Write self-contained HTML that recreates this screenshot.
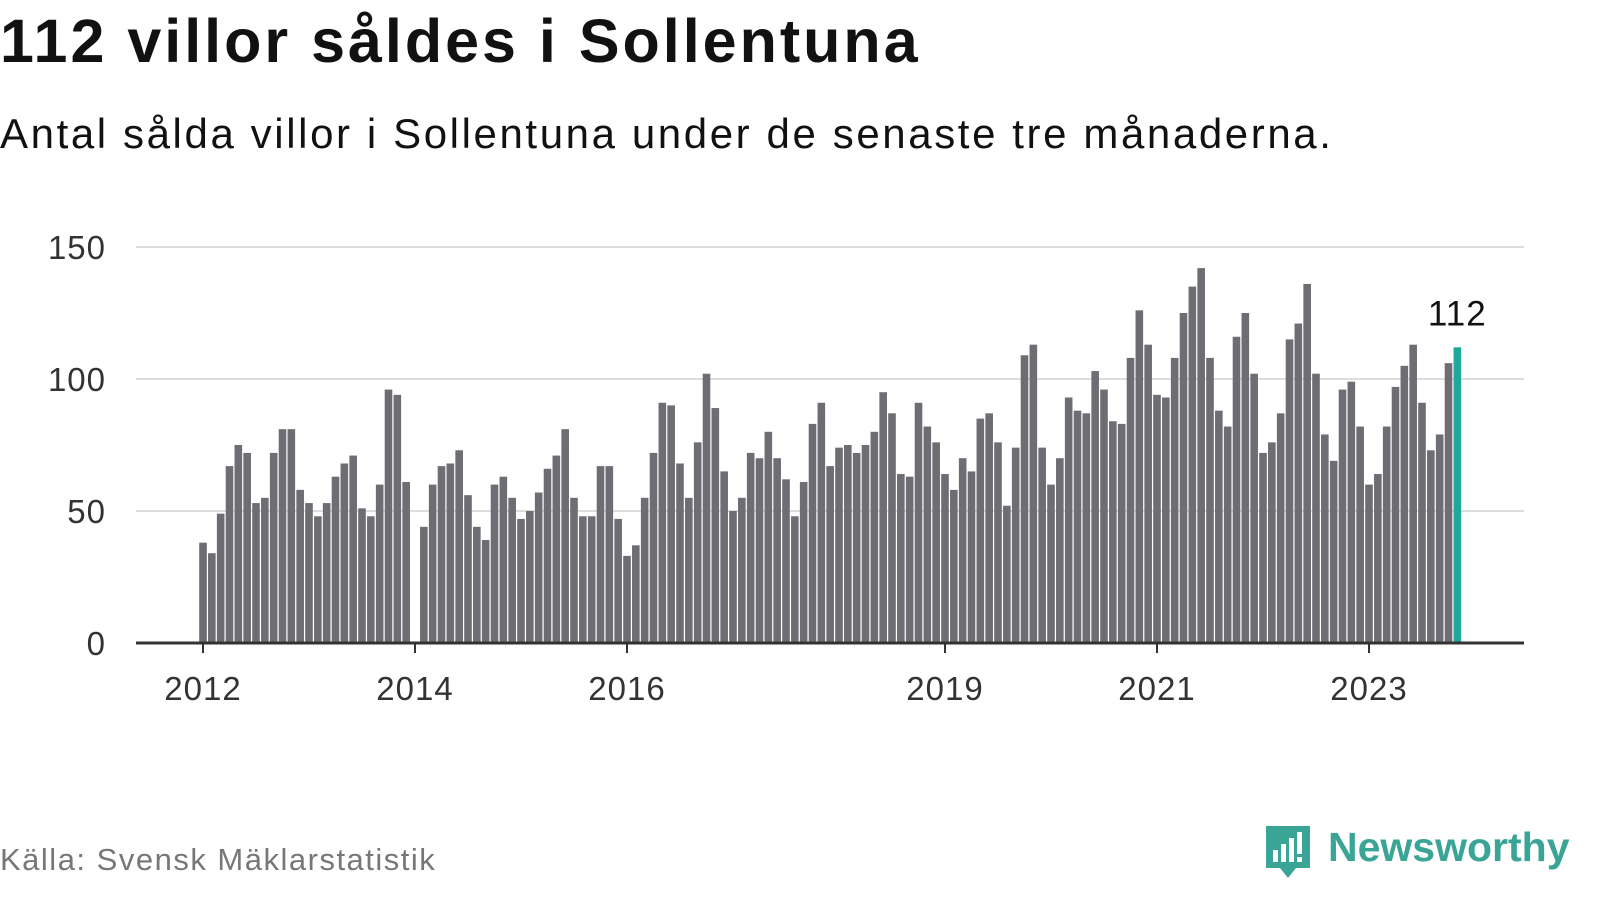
<!DOCTYPE html>
<html><head><meta charset="utf-8"><style>
body{margin:0;width:1600px;height:900px;background:#fff;font-family:"Liberation Sans",sans-serif;overflow:hidden;position:relative}
.t{position:absolute;white-space:nowrap}
</style></head><body>
<div class="t" style="left:0;top:6px;font-size:61px;font-weight:bold;color:#111;letter-spacing:3px">112 villor såldes i Sollentuna</div>
<div class="t" style="left:0;top:110px;font-size:42px;color:#111;letter-spacing:2.6px">Antal sålda villor i Sollentuna under de senaste tre månaderna.</div>
<svg id="c" width="1600" height="900" style="position:absolute;left:0;top:0"></svg>
<div class="t" style="left:0;top:842px;font-size:31px;color:#777;letter-spacing:1.5px">Källa: Svensk Mäklarstatistik</div>
<div style="position:absolute;left:1264px;top:824px;width:300px;height:60px">
<svg width="50" height="58" style="position:absolute;left:0;top:0"><path d="M2 2h44v42h-14l-8 10l-8-10h-14z" fill="#3aa597"/><rect x="9" y="26" width="5" height="12" fill="#fff"/><rect x="17" y="20" width="5" height="18" fill="#fff"/><rect x="25" y="14" width="5" height="24" fill="#fff"/><rect x="33" y="8" width="5" height="22" fill="#fff"/><rect x="33" y="33" width="5" height="5" fill="#fff"/></svg>
<div class="t" style="left:64px;top:0;font-size:41px;font-weight:bold;color:#3aa597">Newsworthy</div></div>
<script>
const years=[2012,2013,2014,2015,2016,2017,2018,2019,2020,2021,2022,2023];
const values=[38,34,49,67,75,72,53,55,72,81,81,58,
53,48,53,63,68,71,51,48,60,96,94,61,
null,44,60,67,68,73,56,44,39,60,63,55,
47,50,57,66,71,81,55,48,48,67,67,47,
33,37,55,72,91,90,68,55,76,102,89,65,
50,55,72,70,80,70,62,48,61,83,91,67,
74,75,72,75,80,95,87,64,63,91,82,76,
64,58,70,65,85,87,76,52,74,109,113,74,
60,70,93,88,87,103,96,84,83,108,126,113,
94,93,108,125,135,142,108,88,82,116,125,102,
72,76,87,115,121,136,102,79,69,96,99,82,
60,64,82,97,105,113,91,73,79,106,112];
const yTicks=[0,50,100,150];
const xTickLabels=["2012","2014","2016","2019","2021","2023"];
const svg=document.getElementById('c');const NS="http://www.w3.org/2000/svg";
const y=v=>643-v*(396/150);
const x=i=>203+i*(106/12);
function el(t,a){const e=document.createElementNS(NS,t);for(const k in a)e.setAttribute(k,a[k]);svg.appendChild(e);return e;}
yTicks.forEach(v=>{
 if(v>0){const g=el('line',{x1:136,x2:1524,y1:y(v),y2:y(v),stroke:'#ddd','stroke-width':2});
 
 }
 const t=el('text',{x:106,y:y(v)+12,'text-anchor':'end','font-size':33,fill:'#333','font-family':'Liberation Sans','letter-spacing':1});t.textContent=v;
 
 
});
values.forEach((v,i)=>{
 if(v==null)return;
 const last=i===values.length-1;
 const r=el('rect',{x:x(i)-3.8,y:y(v),width:7.6,height:643-y(v),fill:last?'#1fa99a':'#6e6d73'});
 
 
 if(last){const t=el('text',{x:x(i),y:y(v)-22,'text-anchor':'middle','font-size':35,fill:'#111','font-family':'Liberation Sans','letter-spacing':1});t.textContent=v;
 
 }
});
const ax=el('line',{x1:136,x2:1524,y1:643,y2:643,stroke:'#333','stroke-width':3});


xTickLabels.forEach(l=>{
 const i=(+l-years[0])*12;
 const tk=el('line',{x1:x(i),x2:x(i),y1:643,y2:653,stroke:'#333','stroke-width':2});
 
 
 const t=el('text',{x:x(i),y:700,'text-anchor':'middle','font-size':33,fill:'#333','font-family':'Liberation Sans','letter-spacing':1});t.textContent=l;
 
 
});
</script>
</body></html>
